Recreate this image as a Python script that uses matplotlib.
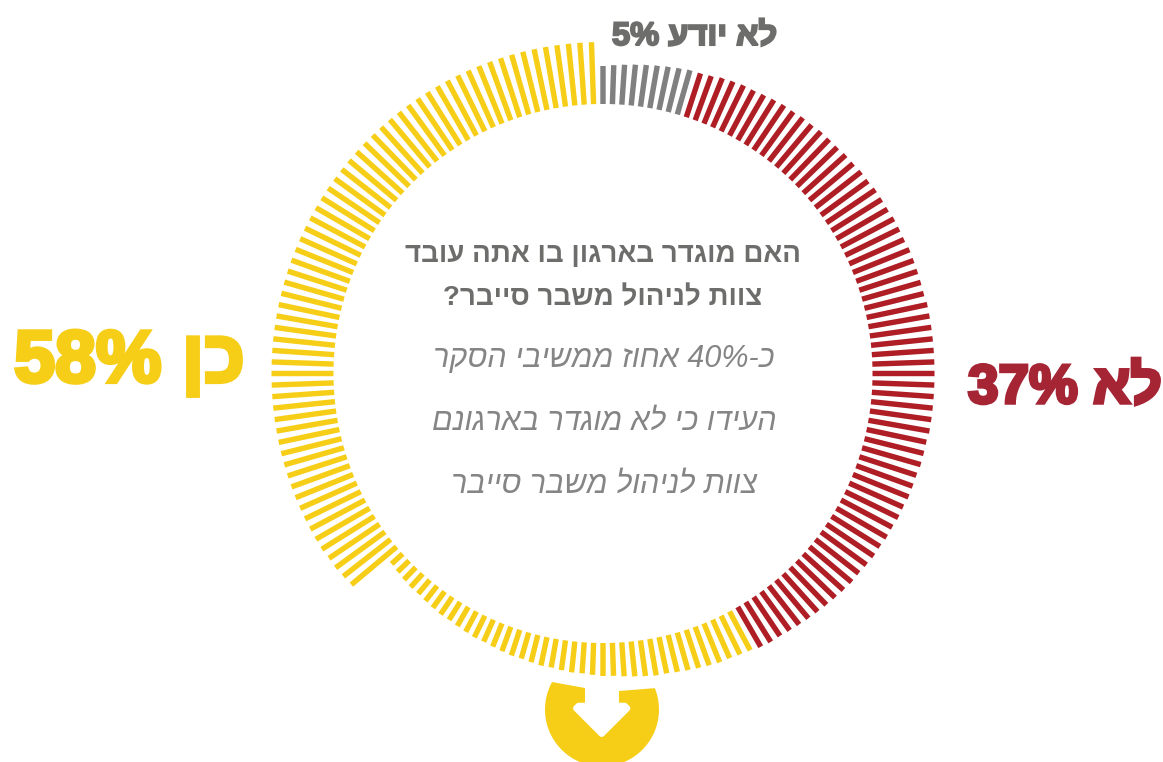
import re
import matplotlib
matplotlib.use("Agg")
import matplotlib.pyplot as plt
import matplotlib.patheffects as pe
from matplotlib.patches import Polygon
import numpy as np

shares = [5, 37, 58]
share_colors = ["#808080", "#AE1E24", "#F7CE17"]
n_ticks = 180

# length of every tick, clockwise from 12 o'clock, one tick each 2 degrees
gray_len = [38, 39, 40, 41, 42, 43, 44, 45, 46]
red_len = [46, 47, 49, 50, 51, 51, 52, 53, 54, 54, 55, 55, 56, 56, 56, 57, 57,
           58, 58, 59, 59, 59, 60, 60, 60, 61, 61, 61, 61, 61, 62, 62, 62, 62,
           62, 62, 62, 62, 62, 62, 62, 62, 61, 61, 61, 60, 60, 60, 59, 59, 58,
           58, 57, 57, 56, 55, 55, 54, 53, 52, 51, 50, 49, 48, 47, 47, 46]
yellow_short_len = [44, 43, 42, 42, 41, 40, 39, 38, 37, 37, 36, 35, 34, 33, 33,
                    32, 31, 31, 30, 29, 29, 28, 27, 27, 26, 25, 24, 24, 23, 22,
                    21, 21, 20, 19, 18, 18, 17, 16, 15]
yellow_long_len = [59, 60, 61, 61] + [62] * 61

question = ["האם מוגדר בארגון בו אתה עובד", "צוות לניהול משבר סייבר?"]
finding = ["כ-40% אחוז ממשיבי הסקר", "העידו כי לא מוגדר בארגונם", "צוות לניהול משבר סייבר"]
label_gray = "לא יודע 5%"
label_red = "לא 37%"
label_yellow = "כן 58%"

W, H = 1163, 762
CX, CY = 603, 373.5
R_IN = 269.5
R_AX = 340

plt.rcParams["font.family"] = ["Liberation Sans", "DejaVu Sans"]


def rtl(s):
    # matplotlib has no bidi, so put the string in display order by hand
    return re.sub(r"[\d%]+", lambda m: m.group(0)[::-1], s[::-1])


def heavy(color, width):
    return [pe.withStroke(linewidth=width, foreground=color, joinstyle="miter")]


fig = plt.figure(figsize=(W / 100, H / 100), dpi=100)

# page axes in pixel units, y going down
page = fig.add_axes([0, 0, 1, 1])
page.set_xlim(0, W)
page.set_ylim(H, 0)
page.axis("off")

# ring of ticks
ring = fig.add_axes([(CX - R_AX) / W, (H - CY - R_AX) / H, 2 * R_AX / W, 2 * R_AX / H], projection="polar")
ring.set_theta_zero_location("N")
ring.set_theta_direction(-1)
ring.set_ylim(0, R_AX)
ring.axis("off")
ring.patch.set_alpha(0)

lengths = np.array(gray_len + red_len + yellow_short_len + yellow_long_len)
counts = [round(s * n_ticks / 100) for s in shares]
colors = np.repeat(share_colors, counts)
theta = np.deg2rad(np.arange(n_ticks) * 2)
ticks = ring.vlines(theta, R_IN, R_IN + lengths, colors=colors, linewidth=3.9, capstyle="butt")
ticks.set_snap(False)

# round badge with the arrow cut out of it
a = np.deg2rad(np.linspace(-22, 208.8, 120))
badge_x = 602 + 57 * np.cos(a)
badge_y = 709.5 + 57 * np.sin(a)
page.add_patch(Polygon(np.column_stack([np.r_[badge_x, 585, 619], np.r_[badge_y, 688, 691]]),
                       closed=True, fc="#F7CE17", ec="none"))
page.add_patch(Polygon([[588, 684], [616, 684], [616, 705.7], [624.7, 705.7], [627.4, 708.3],
                        [601.7, 734], [576, 708.3], [578.6, 705.7], [588, 705.7]],
                       closed=True, fc="white", ec="white", lw=4.3, joinstyle="round"))

# centre text
for txt, y in zip(question, [262, 305]):
    page.text(603, y, rtl(txt), ha="center", va="baseline", fontsize=20, fontweight="bold", color="#6D6E6C")
for txt, y in zip(finding, [367, 430, 493]):
    page.text(604, y, rtl(txt), ha="center", va="baseline", fontsize=22, fontstyle="italic", color="#858585")

# big labels
page.text(777, 45, rtl(label_gray), ha="right", va="baseline", fontsize=23.5, fontweight="bold",
          color="#6D6E6C", path_effects=heavy("#6D6E6C", 1.5))
page.text(1162, 403, rtl(label_red), ha="right", va="baseline", fontsize=39.5, fontweight="bold",
          color="#A52535", path_effects=heavy("#A52535", 2.5))
page.text(245, 382, rtl(label_yellow), ha="right", va="baseline", fontsize=53, fontweight="bold",
          color="#F7CE17", path_effects=heavy("#F7CE17", 3))

fig.savefig("out.png", dpi=100)
